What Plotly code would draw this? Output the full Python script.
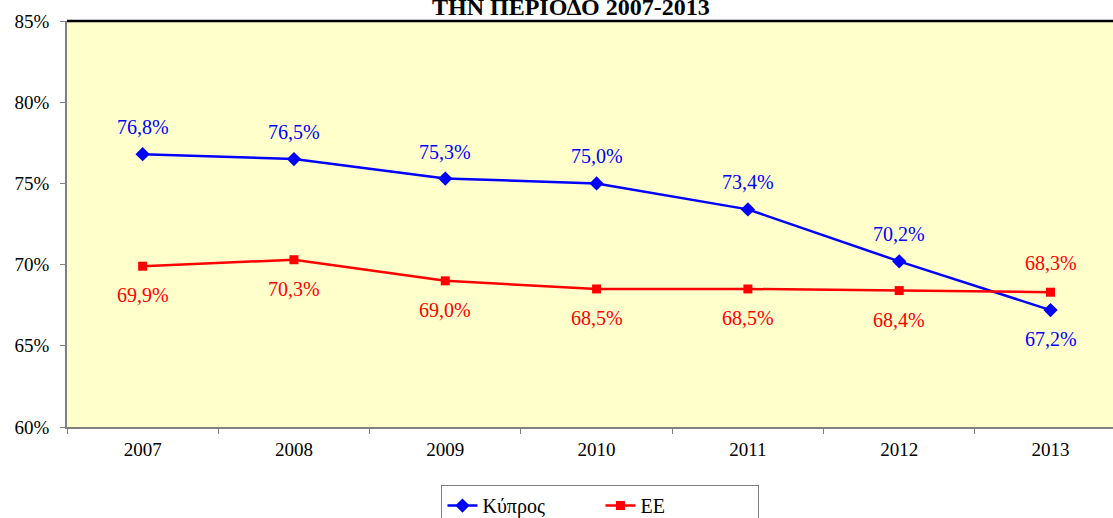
import plotly.graph_objects as go

years = ["2007", "2008", "2009", "2010", "2011", "2012", "2013"]
cyprus = [76.8, 76.5, 75.3, 75.0, 73.4, 70.2, 67.2]
eu = [69.9, 70.3, 69.0, 68.5, 68.5, 68.4, 68.3]
cyprus_label_above = [True, True, True, True, True, True, False]
eu_label_above = [False, False, False, False, False, False, True]
y_ticks = [60, 65, 70, 75, 80, 85]
y_tick_labels = [f"{v}%" for v in y_ticks]

FONT = "Liberation Serif, Times New Roman, serif"
BLUE = "#0000FF"
RED = "#FF0000"

fig = go.Figure()
fig.add_trace(go.Scatter(
    x=years, y=cyprus, name="Κύπρος", mode="lines+markers",
    line=dict(color=BLUE, width=2.5),
    marker=dict(symbol="diamond", size=11, color=BLUE),
))
fig.add_trace(go.Scatter(
    x=years, y=eu, name="ΕΕ", mode="lines+markers",
    line=dict(color=RED, width=2.5),
    marker=dict(symbol="square", size=9, color=RED),
))

def fmt(v):
    return f"{v:.1f}".replace(".", ",") + "%"

for i, (yv, above) in enumerate(zip(cyprus, cyprus_label_above)):
    fig.add_annotation(x=i, y=yv, text=fmt(yv), showarrow=False,
                       yshift=27 if above else -29,
                       font=dict(family=FONT, size=20, color=BLUE))
for i, (yv, above) in enumerate(zip(eu, eu_label_above)):
    fig.add_annotation(x=i, y=yv, text=fmt(yv), showarrow=False,
                       yshift=29 if above else -29,
                       font=dict(family=FONT, size=20, color=RED))

fig.add_annotation(xref="paper", yref="paper", x=0.4823, y=1.0, yanchor="bottom",
                   yshift=-1, text="<b>ΤΗΝ ΠΕΡΙΟΔΟ 2007-2013</b>", showarrow=False,
                   font=dict(family=FONT, size=24, color="black"))

fig.add_shape(type="line", xref="paper", yref="paper", x0=0, x1=1, y0=1, y1=1,
              line=dict(color="black", width=2.5))

fig.update_layout(
    width=1113, height=518,
    margin=dict(l=67, r=0, t=21, b=91, autoexpand=False),
    paper_bgcolor="white",
    plot_bgcolor="#FFFFCC",
    font=dict(family=FONT, size=19, color="black"),
    showlegend=True,
    legend=dict(orientation="h", xanchor="center", x=0.51, yanchor="top", y=-0.143,
                bordercolor="#808080", borderwidth=1, bgcolor="white",
                font=dict(family=FONT, size=20), entrywidth=113,
                entrywidthmode="pixels"),
)
fig.update_xaxes(
    type="category", range=[-0.5, 6.413], showgrid=False,
    showline=True, linecolor="#808080", linewidth=1.5,
    ticks="outside", tickson="boundaries", ticklen=5, tickcolor="#808080",
    ticklabelstandoff=4, zeroline=False,
)
fig.update_yaxes(
    range=[60, 85], tickvals=y_ticks, ticktext=y_tick_labels, showgrid=False,
    showline=True, linecolor="#808080", linewidth=1.5,
    ticks="outside", ticklen=5, tickcolor="#808080", ticklabelstandoff=7,
    zeroline=False,
)

fig.write_html("out.html", config={"displayModeBar": False},
               post_script="document.body.style.margin='0';")
